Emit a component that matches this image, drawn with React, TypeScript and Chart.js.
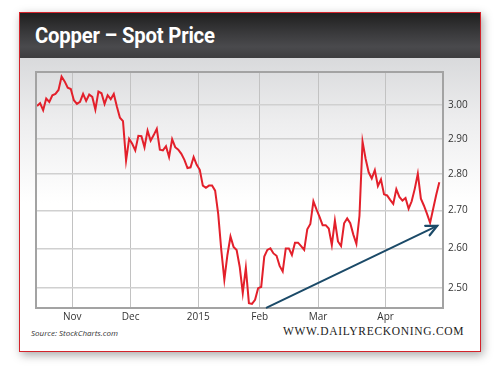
import React, { useEffect, useRef } from "react";
import { Chart, registerables } from "chart.js";

Chart.register(...registerables);

// Copper spot price (USD/lb), one value per trading day, mid-Oct 2014 – late Apr 2015
const prices: number[] = [
  2.997, 3.005, 2.984, 3.019, 3.009, 3.029, 3.033, 3.045, 3.086, 3.071,
  3.052, 3.048, 3.014, 3.003, 3.009, 3.033, 3.012, 3.031, 3.024, 2.986,
  3.040, 3.035, 3.003, 3.029, 3.017, 3.033, 2.995, 2.962, 2.952, 2.838,
  2.900, 2.886, 2.867, 2.909, 2.908, 2.876, 2.924, 2.895, 2.911, 2.929,
  2.869, 2.867, 2.879, 2.848, 2.899, 2.876, 2.869, 2.857, 2.840, 2.817,
  2.819, 2.848, 2.826, 2.812, 2.768, 2.762, 2.768, 2.768, 2.754, 2.691,
  2.596, 2.520, 2.583, 2.631, 2.604, 2.596, 2.553, 2.487, 2.550, 2.462,
  2.460, 2.470, 2.499, 2.502, 2.579, 2.596, 2.600, 2.587, 2.581, 2.555,
  2.541, 2.600, 2.600, 2.583, 2.615, 2.615, 2.606, 2.596, 2.650, 2.664,
  2.725, 2.703, 2.683, 2.661, 2.661, 2.652, 2.609, 2.673, 2.618, 2.606,
  2.666, 2.679, 2.666, 2.636, 2.612, 2.686, 2.892, 2.843, 2.805, 2.788,
  2.811, 2.767, 2.785, 2.744, 2.741, 2.729, 2.718, 2.758, 2.737, 2.727,
  2.734, 2.705, 2.725, 2.759, 2.801, 2.732, 2.713, 2.691, 2.667, 2.705,
  2.743, 2.777,
];

const yTicks: number[] = [2.5, 2.6, 2.7, 2.8, 2.9, 3.0];
const monthLabels: string[] = ["Nov", "Dec", "2015", "Feb", "Mar", "Apr"];
const monthStartIndex: number[] = [12, 31, 53, 73, 92, 114];

// Trend arrow (trading-day index, price)
const trendFrom: number[] = [74.8, 2.451];
const trendTo: number[] = [130.3, 2.659];

const xRange: number[] = [-0.33, 132.2];
const yRange: number[] = [2.451, 3.1];

const boxAndArrow = {
  id: "boxAndArrow",
  afterDatasetsDraw(chart: any) {
    const { ctx, chartArea, scales } = chart;
    ctx.save();
    ctx.strokeStyle = "#a3a3a3";
    ctx.lineWidth = 2;
    ctx.strokeRect(chartArea.left, chartArea.top, chartArea.right - chartArea.left, chartArea.bottom - chartArea.top);

    const x1 = scales.x.getPixelForValue(trendFrom[0]);
    const y1 = scales.y.getPixelForValue(trendFrom[1]);
    const x2 = scales.x.getPixelForValue(trendTo[0]);
    const y2 = scales.y.getPixelForValue(trendTo[1]);
    ctx.strokeStyle = "#1b4a68";
    ctx.lineWidth = 2;
    ctx.lineCap = "round";
    ctx.beginPath();
    ctx.moveTo(x1, y1);
    ctx.lineTo(x2, y2);
    ctx.stroke();
    const ang = Math.atan2(y2 - y1, x2 - x1);
    const len = 12;
    const spread = 0.45;
    ctx.lineWidth = 2.2;
    ctx.lineJoin = "miter";
    ctx.beginPath();
    ctx.moveTo(x2 - len * Math.cos(ang - spread), y2 - len * Math.sin(ang - spread));
    ctx.lineTo(x2, y2);
    ctx.lineTo(x2 - len * Math.cos(ang + spread), y2 - len * Math.sin(ang + spread));
    ctx.stroke();
    ctx.restore();
  },
};

export default function App() {
  const canvasRef = useRef<HTMLCanvasElement | null>(null);

  useEffect(() => {
    if (!canvasRef.current) return;
    const chart = new Chart(canvasRef.current, {
      type: "line",
      data: {
        datasets: [
          {
            data: prices.map((v, i) => ({ x: i, y: v })),
            borderColor: "#e3202b",
            borderWidth: 2,
            pointRadius: 0,
            tension: 0,
            fill: false,
          },
        ],
      },
      options: {
        animation: false,
        responsive: false,
        devicePixelRatio: 1,
        layout: { padding: { left: 36, top: 72, right: 20, bottom: 40 } },
        plugins: { legend: { display: false }, tooltip: { enabled: false } },
        scales: {
          x: {
            type: "linear",
            min: xRange[0],
            max: xRange[1],
            afterBuildTicks: (scale: any) => {
              scale.ticks = monthStartIndex.map((i) => ({ value: i - 0.5 }));
            },
            afterFit: (scale: any) => {
              scale.height = 22;
            },
            grid: { color: "#c2c2c2", lineWidth: 1, drawTicks: false },
            border: { display: false },
            ticks: {
              autoSkip: false,
              maxRotation: 0,
              padding: 3,
              color: "#333",
              font: { family: "'Open Sans', sans-serif", size: 10 },
              callback: (_v: any, idx: number) => monthLabels[idx],
            },
          },
          y: {
            type: "logarithmic",
            position: "right",
            min: yRange[0],
            max: yRange[1],
            afterBuildTicks: (scale: any) => {
              scale.ticks = yTicks.map((v) => ({ value: v }));
            },
            afterFit: (scale: any) => {
              scale.width = 37;
            },
            grid: { color: "#d0d0d0", lineWidth: 1.5, drawTicks: false },
            border: { display: false },
            ticks: {
              padding: 5,
              color: "#333",
              font: { family: "'Open Sans', sans-serif", size: 10 },
              callback: (v: any) => Number(v).toFixed(2),
            },
          },
        },
      },
      plugins: [boxAndArrow],
    } as any);
    return () => chart.destroy();
  }, []);

  return (
    <div style={{ position: "absolute", left: 0, top: 0, width: 500, height: 370, background: "#fff", overflow: "hidden" }}>
      <div
        style={{
          position: "absolute",
          left: 19,
          top: 12,
          width: 462,
          height: 340,
          boxSizing: "border-box",
          border: "1.5px solid #d3232b",
          boxShadow: "2px 3px 9px rgba(0,0,0,0.35)",
          background: "linear-gradient(#d9dadc 0px, #d9dadc 46px, #eeeeef 110px, #ffffff 190px)",
        }}
      >
        <div
          style={{
            position: "absolute",
            left: 0,
            top: 0,
            right: 0,
            height: 45,
            background: "linear-gradient(#1f1f1f 0%, #3a3a3c 45%, #4a4a4d 75%, #3d3d3f 100%)",
          }}
        />
        <div
          style={{
            position: "absolute",
            left: 15,
            top: 8,
            color: "#fff",
            fontFamily: "Roboto, 'Liberation Sans', sans-serif",
            fontWeight: 700,
            fontSize: 22.5,
            lineHeight: "28px",
            whiteSpace: "nowrap",
            transform: "scaleX(0.9)",
            transformOrigin: "left center",
            letterSpacing: "-0.2px",
          }}
        >
          Copper – Spot Price
        </div>
        <div
          style={{
            position: "absolute",
            left: 11,
            top: 315,
            color: "#333",
            fontFamily: "'Open Sans', sans-serif",
            fontStyle: "italic",
            fontSize: 8,
            lineHeight: "10px",
            whiteSpace: "nowrap",
          }}
        >
          Source: StockCharts.com
        </div>
        <div
          style={{
            position: "absolute",
            left: 263,
            top: 311,
            color: "#1a1a1a",
            fontFamily: "'Liberation Serif', 'DejaVu Serif', serif",
            fontSize: 11.5,
            lineHeight: "14px",
            letterSpacing: "0.7px",
            whiteSpace: "nowrap",
          }}
        >
          WWW.DAILYRECKONING.COM
        </div>
      </div>
      <canvas ref={canvasRef} width={500} height={370} style={{ position: "absolute", left: 0, top: 0, width: 500, height: 370 }} />
    </div>
  );
}
